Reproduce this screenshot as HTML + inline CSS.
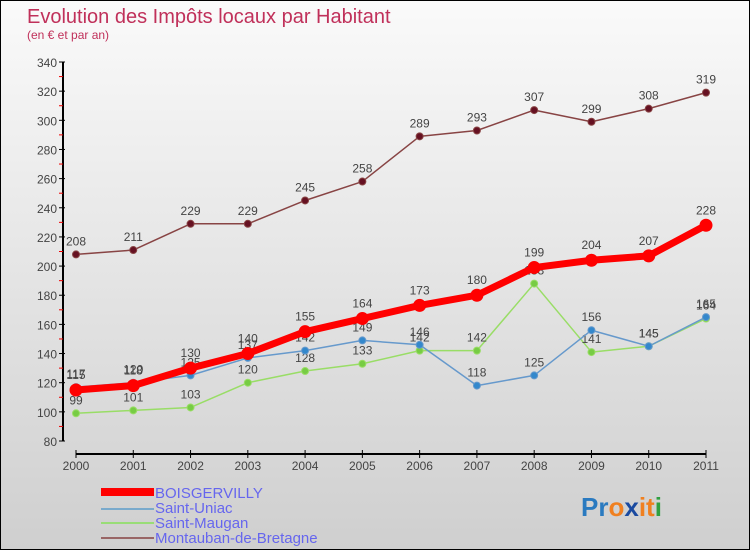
<!DOCTYPE html>
<html><head><meta charset="utf-8"><style>
html,body{margin:0;padding:0}
body{width:750px;height:550px;overflow:hidden;font-family:"Liberation Sans",sans-serif}
#wrap{position:relative;width:748px;height:548px;border:1px solid #000;background:linear-gradient(#fafafa,#cfcfcf)}
svg{position:absolute;left:0;top:0}
</style></head><body>
<div id="wrap">
<svg id="chart" width="748" height="548">
<text x="26" y="22" font-size="20" fill="#c0305a">Evolution des Impôts locaux par Habitant</text>
<text x="26" y="38" font-size="12" fill="#c0305a">(en € et par an)</text>
<g id="axes"></g><g id="series"></g>
<g>
<rect x="100" y="487" width="53" height="8" fill="#f00"/>
<text x="154" y="497" font-size="15" fill="#6666ee">BOISGERVILLY</text>
<line x1="100" y1="508" x2="153" y2="508" stroke="#7aaacc" stroke-width="2"/>
<text x="154" y="512" font-size="15" fill="#6666ee">Saint-Uniac</text>
<line x1="100" y1="522" x2="153" y2="522" stroke="#99dd77" stroke-width="2"/>
<text x="154" y="527" font-size="15" fill="#6666ee">Saint-Maugan</text>
<line x1="100" y1="537" x2="153" y2="537" stroke="#996666" stroke-width="2"/>
<text x="154" y="542" font-size="15" fill="#6666ee">Montauban-de-Bretagne</text>
</g>
<text x="580" y="515" font-size="26" font-weight="bold"><tspan fill="#2a7ac0">Pr</tspan><tspan fill="#f08020">o</tspan><tspan fill="#1a4aa0">x</tspan><tspan fill="#f08020">it</tspan><tspan fill="#30a040">i</tspan></text>
</svg></div>
<script>
const years=["2000","2001","2002","2003","2004","2005","2006","2007","2008","2009","2010","2011"];
const yTicks=[80,100,120,140,160,180,200,220,240,260,280,300,320,340];
const boisgervilly=[115,118,130,140,155,164,173,180,199,204,207,228];
const saintUniac=[117,120,125,137,142,149,146,118,125,156,145,165];
const saintMaugan=[99,101,103,120,128,133,142,142,188,141,145,164];
const montauban=[208,211,229,229,245,258,289,293,307,299,308,319];
const NS="http://www.w3.org/2000/svg";
const X=i=>75+i*(630/11);
const Y=v=>440-(v-80)*379/260;
function mk(t,a,p){const e=document.createElementNS(NS,t);for(const k in a)e.setAttribute(k,a[k]);p.appendChild(e);return e;}
const ax=document.getElementById('axes'),sr=document.getElementById('series');
let l=mk('line',{x1:62,y1:61,x2:62,y2:440,stroke:'#000','stroke-width':2},ax);


yTicks.forEach((v,i)=>{
 mk('line',{x1:58,y1:Y(v),x2:64,y2:Y(v),stroke:'#000'},ax);
 if(i<yTicks.length-1)mk('line',{x1:58,y1:Y(v+10),x2:62,y2:Y(v+10),stroke:'#e00'},ax);
 const t=mk('text',{x:56,y:Y(v)+5,'font-size':12,fill:'#444','text-anchor':'end'},ax);t.textContent=v;
 
 
});
l=mk('line',{x1:75,y1:453,x2:705,y2:453,stroke:'#000','stroke-width':2},ax);


years.forEach((y,i)=>{
 mk('line',{x1:X(i),y1:449,x2:X(i),y2:457,stroke:'#000'},ax);
 const t=mk('text',{x:X(i),y:469,'font-size':12,fill:'#444','text-anchor':'middle'},ax);t.textContent=y;
 
 
});
function series(name,vals,color,w,r,dot,lab){
 const g=mk('g',{},sr);
 
 
 mk('polyline',{points:vals.map((v,i)=>X(i)+','+Y(v)).join(' '),fill:'none',stroke:color,'stroke-width':w,'stroke-linejoin':'round'},g);
 vals.forEach((v,i)=>{
  const c=mk('circle',{cx:X(i),cy:Y(v),r:r,fill:dot,stroke:color,'stroke-width':1},g);
  
  
  const t=mk('text',{x:X(i),y:Y(v)-lab,'font-size':12,fill:'#444','text-anchor':'middle'},g);t.textContent=v;
  
  
 });
}
series('montauban',montauban,'#884444',1.5,3.5,'#661122',9);
series('saint-maugan',saintMaugan,'#99dd66',1.5,3.5,'#77cc44',9);
series('saint-uniac',saintUniac,'#6699cc',1.5,3.5,'#3388cc',9);
series('boisgervilly',boisgervilly,'#ff0000',7,6,'#ff0000',11);
</script>
</body></html>
